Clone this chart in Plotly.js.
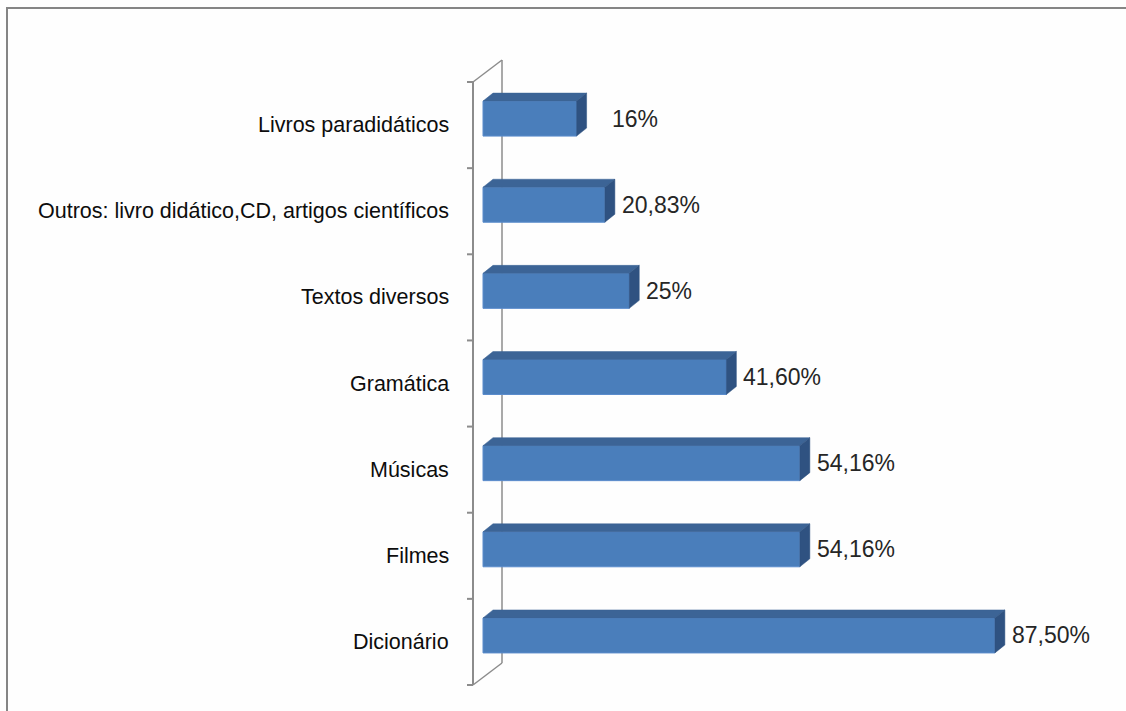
<!DOCTYPE html>
<html>
<head>
<meta charset="utf-8">
<script src="https://cdn.plot.ly/plotly-3.0.1.min.js"></script>
<style>
  html, body { margin: 0; padding: 0; background: #fefefe; }
  #chart { width: 1126px; height: 711px; }
</style>
</head>
<body>
<div id="chart"></div>
<script>
// ---- data (bottom to top) ----
const categories = [
  'Dicionário',
  'Filmes',
  'Músicas',
  'Gramática',
  'Textos diversos',
  'Outros: livro didático,CD, artigos científicos',
  'Livros paradidáticos'
];
const values = [87.5, 54.16, 54.16, 41.6, 25, 20.83, 16];
const labels = ['87,50%', '54,16%', '54,16%', '41,60%', '25%', '20,83%', '16%'];

// ---- geometry helpers ----
const ML = 463, MT = 50, PW = 650, PH = 650;
const SX = 5.85;          // px per % unit
const SY = 86.14;         // px per category unit
const xMin = -20 / SX, xMax = xMin + PW / SX;
const yMin = -0.5 - 15 / SY, yMax = yMin + PH / SY;
const ux = p => p / SX, uy = p => p / SY;

const pos = categories.map((c, i) => i);
const barOff = uy(6.5);      // front face sits slightly above band centre
const half = uy(17.5);
const dX = ux(10), dY = uy(8);  // bar depth
const barY = pos.map(p => p + barOff);

// faces
const topX = [], topY = [], sideX = [], sideY = [];
values.forEach((v, i) => {
  const yt = barY[i] + half, yb = barY[i] - half;
  topX.push(0, v, v + dX, dX, 0, null);
  topY.push(yt, yt, yt + dY, yt + dY, yt, null);
  sideX.push(v, v, v + dX, v + dX, v, null);
  sideY.push(yb, yt, yt + dY, yb + dY, yb, null);
});

const traces = [
  {
    type: 'bar', orientation: 'h', x: values, y: barY, width: 2 * half, base: 0,
    marker: { color: '#4a7ebb', line: { color: '#5b8ccc', width: 1 } },
    hoverinfo: 'skip', showlegend: false
  },
  {
    type: 'scatter', mode: 'lines', x: topX, y: topY, fill: 'toself',
    fillcolor: '#3c6496', line: { color: '#3c6496', width: 0.5 },
    hoverinfo: 'skip', showlegend: false
  },
  {
    type: 'scatter', mode: 'lines', x: sideX, y: sideY, fill: 'toself',
    fillcolor: '#2f5281', line: { color: '#2f5281', width: 0.5 },
    hoverinfo: 'skip', showlegend: false
  }
];

// axis wall (3D frame)
const axc = '#8c8c8c';
const fX = ux(-10), bX = ux(19), wallDY = uy(22);
const shapes = [
  { type: 'line', xref: 'x', yref: 'y', x0: fX, x1: fX, y0: -0.5, y1: 6.5, line: { color: axc, width: 2 } },
  { type: 'line', xref: 'x', yref: 'y', x0: bX, x1: bX, y0: -0.5 + wallDY, y1: 6.5 + wallDY, line: { color: axc, width: 1.5 }, layer: 'below' },
  { type: 'line', xref: 'x', yref: 'y', x0: fX, x1: bX, y0: -0.5, y1: -0.5 + wallDY, line: { color: axc, width: 1.5 } },
  { type: 'line', xref: 'x', yref: 'y', x0: fX, x1: bX, y0: 6.5, y1: 6.5 + wallDY, line: { color: axc, width: 1.5 } }
];
for (let k = 0; k <= categories.length; k++) {
  shapes.push({ type: 'line', xref: 'x', yref: 'y', x0: fX - ux(6), x1: fX, y0: -0.5 + k, y1: -0.5 + k, line: { color: axc, width: 2 } });
}
// outer chart border
shapes.push({
  type: 'rect', xref: 'paper', yref: 'paper',
  x0: (7 - ML) / PW, x1: (1140 - ML) / PW,
  y0: (MT + PH - 720) / PH, y1: (MT + PH - 8) / PH,
  line: { color: '#858585', width: 2 }, fillcolor: 'rgba(0,0,0,0)', layer: 'below'
});

const labelShift = values.map((v, i) => (i === values.length - 1 ? 33 : 15));
const annotations = values.map((v, i) => ({
  x: v, y: barY[i], xref: 'x', yref: 'y', text: labels[i], showarrow: false,
  xanchor: 'left', yanchor: 'middle', xshift: labelShift[i],
  font: { family: 'Liberation Sans, Arial, sans-serif', size: 23, color: '#262626' }
}));
categories.forEach((c, i) => {
  annotations.push({
    x: fX, y: pos[i], xref: 'x', yref: 'y', text: c, showarrow: false,
    xanchor: 'right', yanchor: 'middle', xshift: -22,
    font: { family: 'Liberation Sans, Arial, sans-serif', size: 21.5, color: '#0d0d0d' }
  });
});

const layout = {
  width: 1126, height: 711,
  margin: { l: ML, r: 1126 - ML - PW, t: MT, b: 711 - MT - PH, pad: 0 },
  paper_bgcolor: '#fefefe', plot_bgcolor: 'rgba(0,0,0,0)',
  xaxis: { range: [xMin, xMax], visible: false, fixedrange: true },
  yaxis: { range: [yMin, yMax], visible: false, fixedrange: true },
  showlegend: false, shapes: shapes, annotations: annotations
};

Plotly.newPlot('chart', traces, layout, { displayModeBar: false, staticPlot: true });
</script>
</body>
</html>
